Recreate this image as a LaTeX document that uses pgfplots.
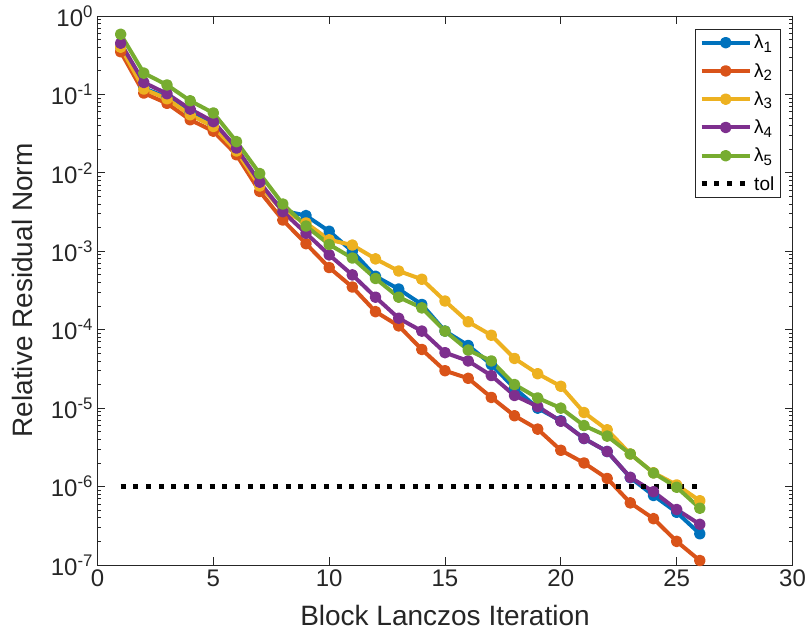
\documentclass[border=0pt]{standalone}
\usepackage{fontspec}
\setmainfont{Liberation Sans}
\usepackage{pgfplots}
\pgfplotsset{compat=1.18}
\definecolor{c1}{rgb}{0,0.447,0.741}
\definecolor{c2}{rgb}{0.85,0.325,0.098}
\definecolor{c3}{rgb}{0.929,0.694,0.125}
\definecolor{c4}{rgb}{0.494,0.184,0.556}
\definecolor{c5}{rgb}{0.466,0.674,0.188}
\definecolor{ax}{rgb}{0.15,0.15,0.15}
\newcommand{\lsub}[1]{\raisebox{-0.35ex}{\fontsize{15}{16}\selectfont #1}}
\begin{document}
\begin{tikzpicture}
\begin{axis}[
  scale only axis, width=695pt, height=549pt,
  xmin=0, xmax=30, ymode=log, ymin=1e-7, ymax=1,
  xtick={0,5,...,30},
  ytick={1e-7,1e-6,1e-5,1e-4,1e-3,1e-2,1e-1,1},
  yticklabels={10\textsuperscript{-7},10\textsuperscript{-6},10\textsuperscript{-5},10\textsuperscript{-4},10\textsuperscript{-3},10\textsuperscript{-2},10\textsuperscript{-1},10\textsuperscript{0}},
  /pgf/number format/assume math mode=true,
  font=\fontsize{28}{32}\selectfont,
  tick label style={font=\fontsize{24}{28}\selectfont, text=ax},
  xticklabel style={yshift=-1pt},
  yticklabel style={xshift=-1pt},
  label style={text=ax},
  xlabel={Block Lanczos Iteration}, ylabel={Relative Residual Norm},
  xlabel style={at={(rel axis cs:0.5,0)}, anchor=base, yshift=-60pt},
  ylabel style={at={(rel axis cs:0,0.5)}, anchor=center, yshift=75pt},
  axis line style={ax, line width=0.8pt},
  every tick/.style={ax, line width=0.8pt},
  major tick length=8pt, minor tick length=4pt,
  legend style={at={(0.983,0.977)}, anchor=north east, font=\fontsize{19}{21}\selectfont, draw=ax, line width=0.8pt, row sep=9pt, inner sep=4pt},
  legend cell align=left,
  legend image code/.code={\draw[mark repeat=2,mark phase=2] plot coordinates {(0pt,0pt)(24pt,0pt)(48pt,0pt)};},
  every axis plot/.append style={line width=4pt, mark=*, mark size=3.8pt, line join=round},
]
\addplot[c1, mark options={fill=c1, draw=c1}] coordinates {
(1,0.40)(2,0.12)(3,0.092)(4,0.058)(5,0.041)(6,0.019)(7,0.0072)(8,0.0033)(9,0.00285)(10,0.0018)
(11,0.001)(12,0.00048)(13,0.00033)(14,0.00021)(15,0.000096)(16,6.3e-5)(17,3.6e-5)(18,1.8e-5)(19,1.0e-5)(20,6.9e-6)
(21,4.1e-6)(22,2.8e-6)(23,1.3e-6)(24,7.7e-7)(25,4.7e-7)(26,2.5e-7)};
\addlegendentry{λ\lsub{1}}
\addplot[c2, mark options={fill=c2, draw=c2}] coordinates {
(1,0.35)(2,0.104)(3,0.077)(4,0.0475)(5,0.034)(6,0.017)(7,0.0058)(8,0.0025)(9,0.00125)(10,0.00062)
(11,0.00035)(12,0.00017)(13,0.000112)(14,5.6e-5)(15,3.0e-5)(16,2.4e-5)(17,1.37e-5)(18,8.0e-6)(19,5.4e-6)(20,2.9e-6)
(21,2.0e-6)(22,1.27e-6)(23,6.2e-7)(24,3.9e-7)(25,2.0e-7)(26,1.14e-7)};
\addlegendentry{λ\lsub{2}}
\addplot[c3, mark options={fill=c3, draw=c3}] coordinates {
(1,0.40)(2,0.117)(3,0.088)(4,0.055)(5,0.039)(6,0.019)(7,0.0068)(8,0.0033)(9,0.0023)(10,0.0014)
(11,0.0012)(12,0.0008)(13,0.00056)(14,0.00044)(15,0.000232)(16,0.000126)(17,8.5e-5)(18,4.3e-5)(19,2.75e-5)(20,1.9e-5)
(21,8.8e-6)(22,5.3e-6)(23,2.6e-6)(24,1.5e-6)(25,1.05e-6)(26,6.6e-7)};
\addlegendentry{λ\lsub{3}}
\addplot[c4, mark options={fill=c4, draw=c4}] coordinates {
(1,0.45)(2,0.142)(3,0.102)(4,0.065)(5,0.045)(6,0.0207)(7,0.0076)(8,0.0032)(9,0.0017)(10,0.0009)
(11,0.0005)(12,0.00026)(13,0.00014)(14,9.6e-5)(15,5.1e-5)(16,4.0e-5)(17,2.6e-5)(18,1.45e-5)(19,1.05e-5)(20,6.8e-6)
(21,4.1e-6)(22,2.8e-6)(23,1.31e-6)(24,8.6e-7)(25,5.1e-7)(26,3.3e-7)};
\addlegendentry{λ\lsub{4}}
\addplot[c5, mark options={fill=c5, draw=c5}] coordinates {
(1,0.585)(2,0.187)(3,0.132)(4,0.083)(5,0.058)(6,0.025)(7,0.0098)(8,0.0040)(9,0.0021)(10,0.00122)
(11,0.00082)(12,0.00045)(13,0.00026)(14,0.00019)(15,9.6e-5)(16,5.5e-5)(17,4.0e-5)(18,2.0e-5)(19,1.35e-5)(20,1.0e-5)
(21,6.0e-6)(22,4.4e-6)(23,2.6e-6)(24,1.49e-6)(25,9.8e-7)(26,5.3e-7)};
\addlegendentry{λ\lsub{5}}
\addplot[black, mark=none, line width=5pt, dash pattern=on 5pt off 7.7pt] coordinates {(1,1e-6)(26,1e-6)};
\addlegendentry{tol}
\coordinate (ll) at (rel axis cs:0,0);
\end{axis}
\pgfresetboundingbox
\path[use as bounding box] (ll) ++(-97.5pt,-71pt) rectangle ++(809pt,636pt);
\end{tikzpicture}
\end{document}
